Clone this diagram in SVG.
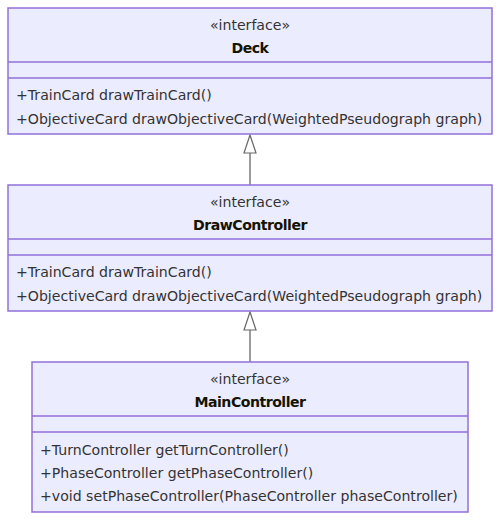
<svg xmlns="http://www.w3.org/2000/svg" width="500" height="520" viewBox="0 0 500 520">
<defs>
<style>
.box{fill:#ECECFF;stroke:#9370DB;stroke-width:1.5}
.div{stroke:#9370DB;stroke-width:1.5}
text{font-family:"DejaVu Sans",Verdana,sans-serif;font-size:14.1px;fill:#333}
.c{text-anchor:middle}
.b{font-weight:bold;fill:#131300;letter-spacing:-0.5px}
.edge{stroke:#666;stroke-width:1.3;fill:none}
.head{fill:#fff;stroke:#666;stroke-width:1.2}
</style>
</defs>
<rect width="500" height="520" fill="#fff"/>
<g id="connectors">
<line class="edge" x1="250" y1="153" x2="250" y2="185"/>
<polygon class="head" points="250,135 244,153 256,153"/>
<line class="edge" x1="250" y1="330" x2="250" y2="362"/>
<polygon class="head" points="250,312 244,330 256,330"/>
</g>
<g id="Deck">
<rect class="box" x="8" y="8" width="484" height="126"/>
<line class="div" x1="8" y1="62" x2="492" y2="62"/>
<line class="div" x1="8" y1="78" x2="492" y2="78"/>
<text class="c" x="250" y="30">«interface»</text>
<text class="c b" x="250" y="53">Deck</text>
<text x="16" y="100">+TrainCard drawTrainCard()</text>
<text x="16" y="124">+ObjectiveCard drawObjectiveCard(WeightedPseudograph graph)</text>
</g>
<g id="DrawController">
<rect class="box" x="8" y="185" width="484" height="126"/>
<line class="div" x1="8" y1="239" x2="492" y2="239"/>
<line class="div" x1="8" y1="255" x2="492" y2="255"/>
<text class="c" x="250" y="207">«interface»</text>
<text class="c b" x="250" y="230">DrawController</text>
<text x="16" y="277">+TrainCard drawTrainCard()</text>
<text x="16" y="301">+ObjectiveCard drawObjectiveCard(WeightedPseudograph graph)</text>
</g>
<g id="MainController">
<rect class="box" x="32" y="362" width="436" height="150"/>
<line class="div" x1="32" y1="416" x2="468" y2="416"/>
<line class="div" x1="32" y1="432" x2="468" y2="432"/>
<text class="c" x="250" y="384">«interface»</text>
<text class="c b" x="250" y="407">MainController</text>
<text x="40" y="455">+TurnController getTurnController()</text>
<text x="40" y="478">+PhaseController getPhaseController()</text>
<text x="40" y="501">+void setPhaseController(PhaseController phaseController)</text>
</g>
</svg>
